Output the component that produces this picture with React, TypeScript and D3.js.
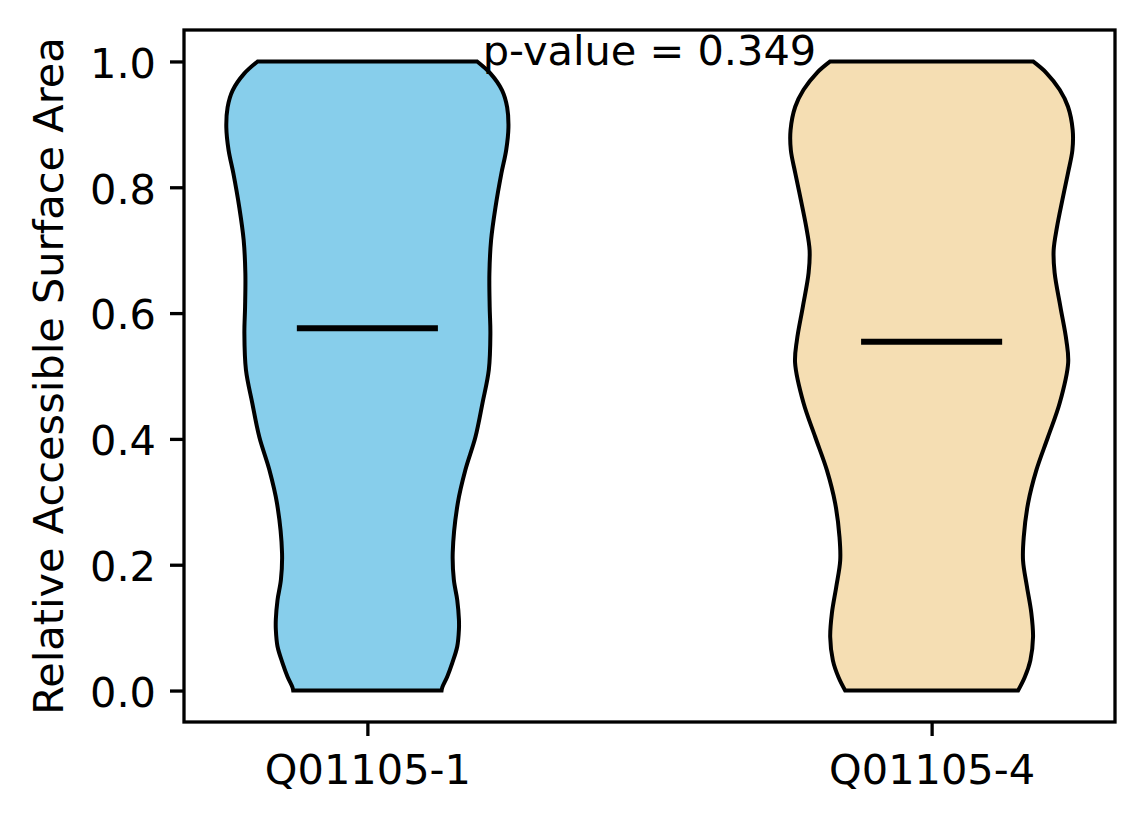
import { useRef, useEffect } from "react";
import * as d3 from "d3";

// violin groups
const CATEGORIES = ["Q01105-1", "Q01105-4"];
const FILLS = ["#87CEEB", "#F5DEB3"];
const MEDIANS = [0.576, 0.5545];
const P_VALUE = 0.349;
const Y_TICKS = [0, 0.2, 0.4, 0.6, 0.8, 1.0];

// kde profile: rsa level and relative half width (1 = widest)
const LEVELS_1 = [0, 0.005, 0.022, 0.044, 0.07, 0.097, 0.113, 0.144, 0.176, 0.219, 0.298, 0.351, 0.403, 0.457, 0.51, 0.568, 0.61, 0.663, 0.716, 0.768, 0.822, 0.859, 0.895, 0.927, 0.954, 0.981, 1.0];
const WIDTHS_1 = [0.526, 0.531, 0.566, 0.602, 0.637, 0.649, 0.649, 0.637, 0.613, 0.605, 0.641, 0.695, 0.766, 0.816, 0.861, 0.872, 0.867, 0.865, 0.877, 0.908, 0.95, 0.984, 1.0, 0.991, 0.955, 0.872, 0.778];

const LEVELS_2 = [0, 0.021, 0.048, 0.085, 0.123, 0.165, 0.207, 0.244, 0.298, 0.35, 0.403, 0.457, 0.521, 0.557, 0.61, 0.664, 0.7, 0.737, 0.78, 0.823, 0.859, 0.891, 0.928, 0.955, 0.982, 1.0];
const WIDTHS_2 = [0.613, 0.66, 0.7, 0.719, 0.707, 0.676, 0.648, 0.653, 0.684, 0.742, 0.825, 0.908, 0.968, 0.955, 0.913, 0.872, 0.865, 0.889, 0.927, 0.967, 0.998, 1.0, 0.967, 0.908, 0.813, 0.719];

const PROFILES = [
  { levels: LEVELS_1, widths: WIDTHS_1 },
  { levels: LEVELS_2, widths: WIDTHS_2 },
];

const FONT = "DejaVu Sans, sans-serif";
const FS = 41.5;

const ViolinChart = () => {
  const svgRef = useRef<SVGSVGElement>(null);
  const svgWidth = 1144;
  const svgHeight = 824;

  useEffect(() => {
    const svg = d3.select(svgRef.current);
    svg.selectAll("*").remove();

    const MARGIN = { LEFT: 184, RIGHT: 1115, TOP: 30, BOTTOM: 722 };
    const x = d3.scaleLinear().domain([0.675, 2.325]).range([MARGIN.LEFT, MARGIN.RIGHT]);
    const y = d3.scaleLinear().domain([-0.05, 1.05]).range([MARGIN.BOTTOM, MARGIN.TOP]);
    const halfMax = x(0.25) - x(0);

    // violins
    PROFILES.forEach((p, i) => {
      const cx = x(i + 1);
      const pts = p.levels.map((l, j) => [l, p.widths[j]] as [number, number]);
      const area = d3
        .area<[number, number]>()
        .curve(d3.curveCatmullRom.alpha(0.5))
        .y((d) => y(d[0]))
        .x0((d) => cx - d[1] * halfMax)
        .x1((d) => cx + d[1] * halfMax);
      svg
        .append("path")
        .attr("d", area(pts) as string)
        .attr("fill", FILLS[i])
        .attr("stroke", "black")
        .attr("stroke-width", 4);

      svg
        .append("line")
        .attr("x1", x(i + 1 - 0.125))
        .attr("x2", x(i + 1 + 0.125))
        .attr("y1", y(MEDIANS[i]))
        .attr("y2", y(MEDIANS[i]))
        .attr("stroke", "black")
        .attr("stroke-width", 6);
    });

    // frame
    svg
      .append("rect")
      .attr("x", MARGIN.LEFT)
      .attr("y", MARGIN.TOP)
      .attr("width", MARGIN.RIGHT - MARGIN.LEFT)
      .attr("height", MARGIN.BOTTOM - MARGIN.TOP)
      .attr("fill", "none")
      .attr("stroke", "black")
      .attr("stroke-width", 3.3);

    const yAxis = svg
      .append("g")
      .attr("transform", `translate(${MARGIN.LEFT}, 0)`)
      .call(
        d3
          .axisLeft(y)
          .tickValues(Y_TICKS)
          .tickSize(14)
          .tickPadding(14)
          .tickFormat(d3.format(".1f")) as any
      );
    yAxis.select(".domain").remove();
    yAxis.selectAll("line").attr("stroke-width", 3.3);
    yAxis
      .selectAll("text")
      .attr("font-size", FS)
      .attr("font-family", FONT)
      .attr("fill", "black")
      .attr("dy", "0.38em");

    const xAxis = svg
      .append("g")
      .attr("transform", `translate(0, ${MARGIN.BOTTOM})`)
      .call(
        d3
          .axisBottom(x)
          .tickValues([1, 2])
          .tickSize(14)
          .tickPadding(14)
          .tickFormat((d) => CATEGORIES[(d as number) - 1]) as any
      );
    xAxis.select(".domain").remove();
    xAxis.selectAll("line").attr("stroke-width", 3.3);
    xAxis
      .selectAll("text")
      .attr("font-size", FS)
      .attr("font-family", FONT)
      .attr("fill", "black")
      .attr("dy", "0.82em");

    // y label
    svg
      .append("text")
      .attr("transform", `translate(63, ${(MARGIN.TOP + MARGIN.BOTTOM) / 2}) rotate(-90)`)
      .attr("text-anchor", "middle")
      .attr("font-size", FS)
      .attr("font-family", FONT)
      .text("Relative Accessible Surface Area");

    // p-value annotation
    svg
      .append("text")
      .attr("x", x(1.5))
      .attr("y", y(0.994))
      .attr("text-anchor", "middle")
      .attr("font-size", FS)
      .attr("font-family", FONT)
      .text(`p-value = ${P_VALUE.toFixed(3)}`);
  }, []);

  return (
    <div style={{ position: "fixed", left: 0, top: 0, background: "white" }}>
      <svg ref={svgRef} width={svgWidth} height={svgHeight} style={{ display: "block" }} />
    </div>
  );
};

export default ViolinChart;
